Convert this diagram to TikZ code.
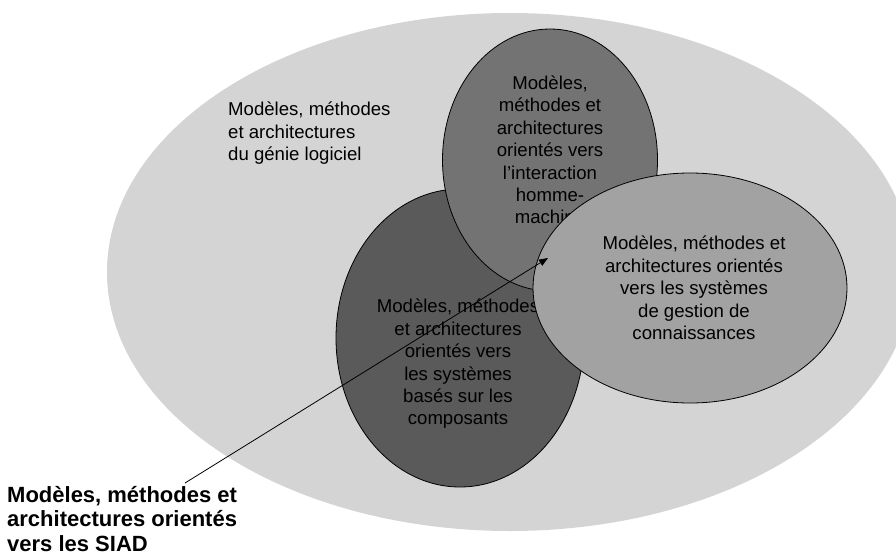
\documentclass[tikz,border=0pt]{standalone}
\usepackage{fontspec}
\setmainfont{Liberation Sans}
\usetikzlibrary{shapes}
\usetikzlibrary{arrows.meta}

\definecolor{gllight}{HTML}{D4D4D4}
\definecolor{ihmgray}{HTML}{737373}
\definecolor{compdark}{HTML}{5A5A5A}
\definecolor{kmgray}{HTML}{A2A2A2}

\begin{document}
\begin{tikzpicture}[x=1pt, y=-1pt, font=\fontsize{18.6}{22.4}\selectfont,
  zone/.style={draw, ellipse, inner sep=0pt, line width=0.8pt},
  txt/.style={align=center, inner sep=0pt}]
\path[use as bounding box, clip] (0,0) rectangle (896,554);
\node[ellipse, fill=gllight, minimum width=806pt, minimum height=518pt] (GL) at (510,272) {};
\node[align=left, inner sep=0pt, anchor=north west] (GLtxt) at (228,102) {Modèles, méthodes\\et architectures\\du génie logiciel};
% composants
\node[zone, fill=compdark, minimum width=248pt, minimum height=298pt] (COMP) at (460,338) {};
\node[txt] (COMPtxt) at (458,364) {Modèles, méthodes\\et architectures\\orientés vers\\les systèmes\\basés sur les\\composants};
% interaction homme-machine
\node[zone, fill=ihmgray, minimum width=215pt, minimum height=262pt] (IHM) at (550,160) {};
\node[txt] (IHMtxt) at (550,150) {Modèles,\\méthodes et\\architectures\\orientés vers\\l’interaction\\homme-\\machine};
% gestion de connaissances
\node[zone, fill=kmgray, minimum width=314pt, minimum height=230pt] (KM) at (690,288) {};
\node[txt] (KMtxt) at (694,288) {Modèles, méthodes et\\architectures orientés\\vers les systèmes\\de gestion de\\connaissances};
% SIAD
\node[align=left, inner sep=0pt, anchor=north west, font=\fontsize{22}{24.4}\selectfont\bfseries] (SIAD) at (7,486) {Modèles, méthodes et\\architectures orientés\\vers les SIAD};
\coordinate (tail) at (185,483);
\coordinate (tip) at (548,258);
\draw[-{Triangle[length=9pt,width=7pt]}, line width=0.8pt] (tail) -- (tip);
\end{tikzpicture}
\end{document}
